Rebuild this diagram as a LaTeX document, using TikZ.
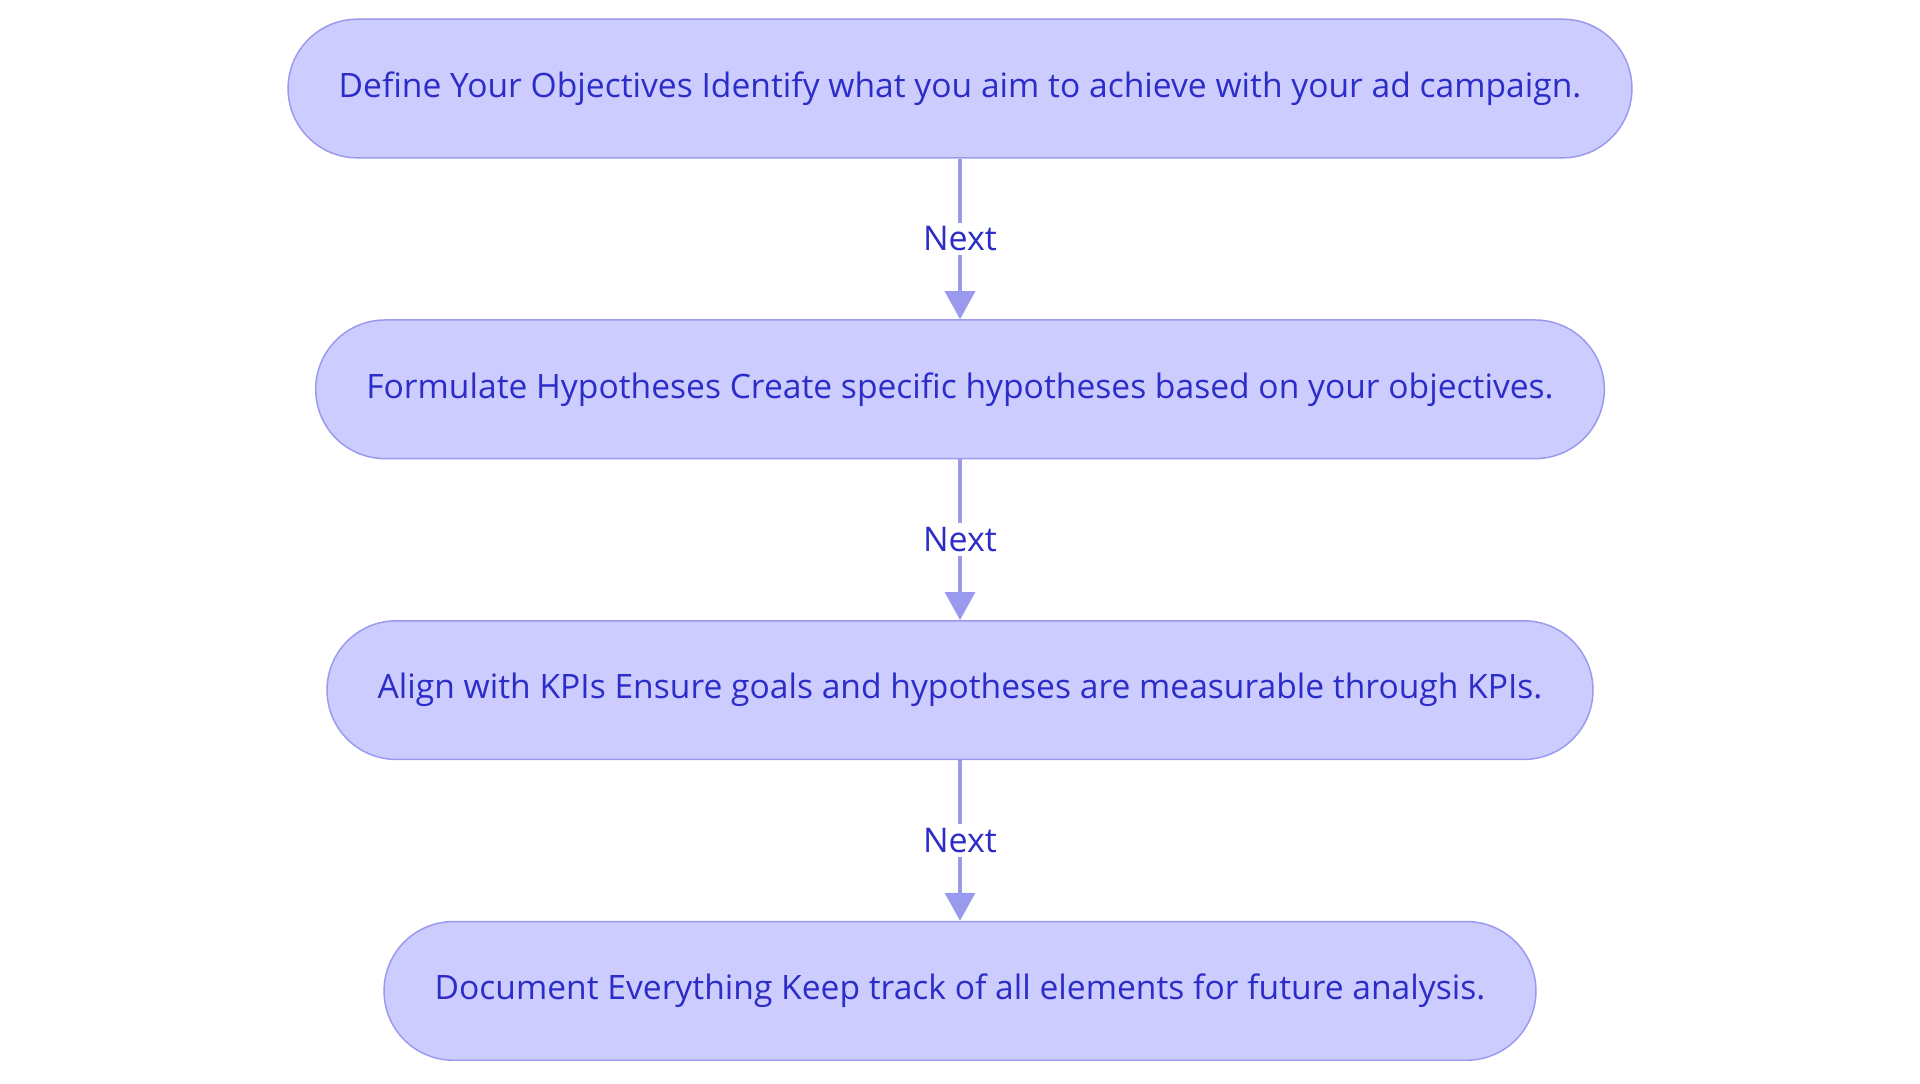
\documentclass[tikz,border=0pt]{standalone}
\usepackage{fontspec}
\setmainfont{Open Sans}
\usetikzlibrary{arrows.meta}
\usetikzlibrary{positioning}

\definecolor{stepfill}{RGB}{204,204,255}
\definecolor{stepline}{RGB}{153,153,238}
\definecolor{steptext}{RGB}{44,44,200}

\begin{document}
\begin{tikzpicture}[x=0.75pt,y=0.75pt,yscale=-1,xscale=1,
  node distance=120.5pt,
  stepbox/.style={draw=stepline,line width=1.1pt,fill=stepfill,text=steptext,
    rounded corners=52pt,minimum height=104pt,inner xsep=38pt,font=\fontsize{25.2}{30}\selectfont},
  nextarrow/.style={draw=stepline,line width=2.6pt,-{Triangle[length=21pt,width=22.5pt]}},
  nextlabel/.style={fill=white,text=steptext,inner sep=3pt,font=\fontsize{25.5}{30}\selectfont}]
%set diagram size to 1920 x 1083
\useasboundingbox (0,0) rectangle (1920,1083);

% Step Nodes
\node [stepbox] (objectives) at (960,88.5) {Define Your Objectives Identify what you aim to achieve with your ad campaign.};
\node [stepbox, below=of objectives] (hypotheses) {Formulate Hypotheses Create specific hypotheses based on your objectives.};
\node [stepbox, below=of hypotheses] (kpis) {Align with KPIs Ensure goals and hypotheses are measurable through KPIs.};
\node [stepbox, below=of kpis] (document) {Document Everything Keep track of all elements for future analysis.};

% Connectors
\draw [nextarrow] (objectives) -- node [nextlabel] (next1) {Next} (hypotheses);
\draw [nextarrow] (hypotheses) -- node [nextlabel] (next2) {Next} (kpis);
\draw [nextarrow] (kpis) -- node [nextlabel] (next3) {Next} (document);

\end{tikzpicture}
\end{document}
